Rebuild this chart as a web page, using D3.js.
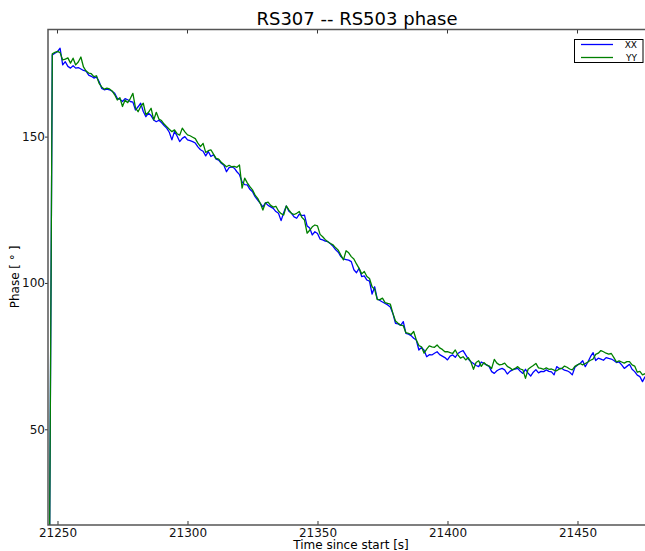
<!DOCTYPE html>
<html>
<head>
<meta charset="utf-8">
<script src="https://cdn.jsdelivr.net/npm/d3@7"></script>
<style>
  body { margin: 0; background: #fff; }
  svg { display: block; font-family: "DejaVu Sans", sans-serif; }
</style>
</head>
<body>
<div id="chart"></div>
<script>
// samples are one second apart, starting at t0
var t0 = 21247;
var step = 1;

var xx = [17,
  177.9,178.5,179.0,180.2,174.5,175.6,174.0,173.4,174.2,173.4,
  173.6,173.1,172.6,172.4,171.0,170.6,170.0,170.4,168.8,166.5,
  166.0,166.2,166.0,165.5,164.8,163.1,162.8,162.0,163.0,162.6,
  162.0,161.8,159.1,160.2,161.4,158.6,156.8,158.0,157.2,155.7,
  155.1,155.6,154.8,153.8,152.9,151.5,148.9,151.8,150.2,148.3,
  149.4,150.0,148.9,148.6,148.3,147.8,146.5,145.5,145.0,143.4,
  144.9,143.2,143.8,142.3,142.0,140.9,140.2,138.0,139.4,139.7,
  139.2,138.0,137.0,134.5,133.6,133.5,132.0,131.2,129.5,128.3,
  127.2,126.0,127.4,126.5,126.0,125.5,124.4,123.8,121.3,124.0,
  126.3,124.5,123.8,122.6,122.1,123.5,123.0,123.2,119.5,118.8,
  116.4,117.5,116.9,115.0,114.7,114.3,114.1,113.4,112.5,111.3,
  110.5,109.0,108.2,108.0,107.8,107.3,104.5,103.5,105.0,102.2,
  102.4,101.0,100.6,96.2,98.7,94.5,94.0,93.5,93.0,92.5,
  91.8,89.6,86.2,86.0,85.5,86.8,82.8,82.5,82.0,81.1,
  80.5,77.1,78.0,77.0,74.8,75.5,75.4,76.0,76.5,75.5,
  75.0,74.5,73.7,75.0,75.4,74.6,75.9,76.5,76.9,75.4,
  74.0,73.1,72.5,71.8,71.4,73.0,72.5,72.0,71.5,69.7,
  69.1,70.0,70.5,70.8,70.3,68.9,69.8,70.3,70.6,70.8,
  69.8,69.1,70.5,69.2,68.2,69.5,70.4,69.3,69.8,69.7,
  70.3,69.8,69.6,68.6,71.4,70.8,70.8,70.2,70.0,69.5,
  68.6,71.2,72.0,72.5,73.4,71.4,73.0,74.8,76.2,73.5,
  74.3,74.0,73.6,74.5,74.2,74.0,73.5,72.8,73.0,72.0,
  70.8,71.5,72.2,70.5,69.7,68.5,68.0,66.3,68.0];

var yy = [17,
  178.3,178.8,179.1,178.7,176.2,176.5,176.9,175.1,176.8,174.5,
  175.5,177.2,173.8,172.4,171.7,171.5,170.5,170.8,168.2,167.0,
  166.2,166.6,166.3,165.6,164.3,162.5,163.3,160.3,162.5,161.6,
  163.0,164.8,159.8,158.5,160.3,161.4,157.5,158.3,159.7,155.7,
  158.3,156.0,155.5,154.3,153.4,152.5,151.7,152.3,151.0,150.5,
  152.9,151.6,150.6,150.3,149.8,149.3,147.8,146.6,147.7,144.6,
  145.2,145.5,144.0,142.6,142.3,141.2,140.5,139.7,140.2,139.7,
  139.8,139.5,140.3,132.4,135.8,134.2,132.9,131.8,130.0,128.9,
  127.2,124.9,127.4,127.6,126.5,125.9,126.2,124.6,123.7,123.2,
  126.3,125.0,123.8,123.4,123.8,124.4,122.4,121.5,117.0,118.0,
  119.2,119.8,119.5,116.6,115.8,114.8,114.1,113.5,113.0,112.0,
  111.2,109.5,107.9,111.0,110.3,109.0,108.2,106.5,105.0,103.1,
  103.9,102.2,101.5,98.7,97.8,94.3,94.3,94.8,93.3,93.0,
  92.8,89.6,87.0,86.2,85.6,85.4,83.0,82.8,82.4,83.4,
  80.5,78.6,78.2,76.0,77.4,78.5,78.2,78.0,78.8,77.8,
  77.3,76.5,76.5,76.2,75.9,77.1,75.4,74.3,74.8,73.7,
  74.5,73.0,70.5,72.8,73.4,71.5,72.8,72.0,71.6,70.8,
  73.9,72.6,72.0,72.2,72.6,71.5,71.0,70.3,70.8,71.4,
  70.6,70.3,67.4,70.5,71.2,71.8,72.5,71.0,70.8,70.5,
  71.0,70.5,70.6,70.2,70.0,70.6,70.8,71.6,71.2,70.6,
  70.3,71.5,72.0,72.5,72.0,72.5,73.0,73.6,74.0,75.6,
  76.0,76.9,76.5,76.0,75.7,75.9,74.5,73.0,73.4,73.0,
  72.6,73.1,73.1,72.0,71.6,69.5,69.8,68.6,69.0];

var seriesNames = ['XX', 'YY'];
var seriesColors = ['#0000ff', '#008000'];
var xTicks = [21250, 21300, 21350, 21400, 21450];
var yTicks = [50, 100, 150];

var width = 645, height = 551;
// plot box in pixels ("top" is taken by window.top, so prefix them)
var pLeft = 48, pTop = 29.5, pRight = 646, pBottom = 525;

var svg = d3.select('#chart').append('svg')
  .attr('width', width)
  .attr('height', height);

var x = d3.scaleLinear().domain([21246.35, 21476.35]).range([pLeft, pRight]);
var y = d3.scaleLinear().domain([17.3, 186.6]).range([pBottom, pTop]);

svg.append('clipPath').attr('id', 'plotclip')
  .append('rect')
  .attr('x', pLeft).attr('y', pTop)
  .attr('width', pRight - pLeft).attr('height', pBottom - pTop);

var line = d3.line()
  .x(function(d, i){ return x(t0 + i * step); })
  .y(function(d){ return y(d); });

var plot = svg.append('g').attr('clip-path', 'url(#plotclip)');
[xx, yy].forEach(function(s, k){
  plot.append('path')
    .datum(s)
    .attr('d', line)
    .attr('fill', 'none')
    .attr('stroke', seriesColors[k])
    .attr('stroke-width', 1.3)
    .attr('stroke-linejoin', 'round');
});

// x axis, ticks point inward, also on the top spine
var xAxis = svg.append('g')
  .attr('transform', 'translate(0,' + pBottom + ')')
  .call(d3.axisBottom(x).tickValues(xTicks).tickFormat(d3.format('d'))
    .tickSize(-4).tickPadding(3.5));
xAxis.select('.domain').remove();
xAxis.selectAll('text').attr('font-size', 12).attr('fill', '#111')
  .attr('font-family', '"DejaVu Sans", sans-serif');
xAxis.selectAll('line').attr('stroke', '#333');

svg.append('g').selectAll('line').data(xTicks).enter().append('line')
  .attr('x1', function(d){ return x(d); })
  .attr('x2', function(d){ return x(d); })
  .attr('y1', pTop).attr('y2', pTop + 4)
  .attr('stroke', '#333');

// y axis, short outward ticks
var yAxis = svg.append('g')
  .attr('transform', 'translate(' + pLeft + ',0)')
  .call(d3.axisLeft(y).tickValues(yTicks).tickSize(3).tickPadding(0));
yAxis.select('.domain').remove();
yAxis.selectAll('text').attr('font-size', 12).attr('fill', '#111')
  .attr('font-family', '"DejaVu Sans", sans-serif');
yAxis.selectAll('line').attr('stroke', '#333');

// spines
svg.append('rect')
  .attr('x', pLeft).attr('y', pTop)
  .attr('width', pRight - pLeft).attr('height', pBottom - pTop)
  .attr('fill', 'none')
  .attr('stroke', '#555')
  .attr('stroke-width', 1.5);

svg.append('text')
  .attr('x', 357).attr('y', 25)
  .attr('text-anchor', 'middle')
  .attr('font-size', 18)
  .attr('fill', '#000')
  .text('RS307 -- RS503 phase');

svg.append('text')
  .attr('x', 351).attr('y', 549)
  .attr('text-anchor', 'middle')
  .attr('font-size', 12)
  .attr('fill', '#000')
  .text('Time since start [s]');

svg.append('text')
  .attr('transform', 'translate(19,277) rotate(-90)')
  .attr('text-anchor', 'middle')
  .attr('font-size', 12)
  .attr('fill', '#000')
  .text('Phase [ \u00b0 ]');

// legend
var legend = svg.append('g');
legend.append('rect')
  .attr('x', 574.5).attr('y', 39.5)
  .attr('width', 68.5).attr('height', 23)
  .attr('fill', '#fff')
  .attr('stroke', '#000')
  .attr('stroke-width', 1);
seriesNames.forEach(function(name, k){
  var ly = 44.5 + k * 13;
  legend.append('line')
    .attr('x1', 581).attr('x2', 613)
    .attr('y1', ly).attr('y2', ly)
    .attr('stroke', seriesColors[k])
    .attr('stroke-width', 1.3);
  legend.append('text')
    .attr('x', 637).attr('y', ly + 3.5)
    .attr('text-anchor', 'end')
    .attr('font-size', 9)
    .attr('fill', '#000')
    .text(name);
});
</script>
</body>
</html>
